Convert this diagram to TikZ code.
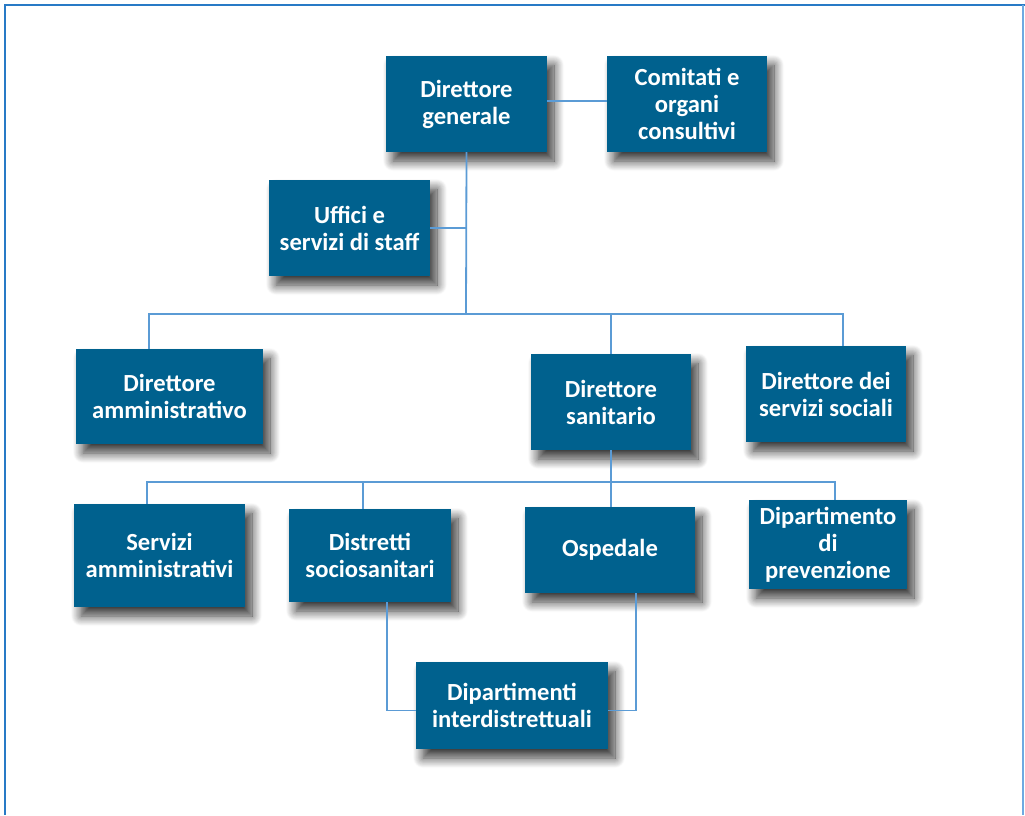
\documentclass[tikz,border=0pt]{standalone}
\usepackage{fontspec}
\setmainfont{Carlito}
\usetikzlibrary{shadows.blur}
\definecolor{unitblue}{RGB}{0,97,142}
\definecolor{linkblue}{RGB}{91,155,213}
\definecolor{frameblue}{RGB}{40,122,198}
\definecolor{framelight}{RGB}{110,170,225}
\tikzset{
  unit/.style={fill=unitblue, text=white, font=\bfseries\fontsize{24.6}{27}\selectfont,
    align=center, inner sep=0pt,
    blur shadow={shadow xshift=7pt, shadow yshift=-9pt, shadow blur radius=10pt,
      shadow blur steps=12, shadow opacity=80}},
  link/.style={draw=linkblue, line width=1.8pt}
}
\begin{document}
\begin{tikzpicture}[x=1pt, y=-1pt]
\useasboundingbox (0,0) rectangle (1025,815);
% outer frame
\draw[frameblue, line width=2.6pt] (1025,5) -- (5,5) -- (5,815);
\draw[framelight, line width=1.4pt] (1023,5) -- (1023,815);

% units
\node[unit, minimum width=161pt, minimum height=96pt] (dg)    at (466.5,104)  {Direttore\\generale};
\node[unit, minimum width=160pt, minimum height=96pt] (com)   at (687,104)    {Comitati e\\organi\\consultivi};
\node[unit, minimum width=161pt, minimum height=96pt] (staff) at (349.5,228)  {Uffici e\\servizi di staff};
\node[unit, minimum width=187pt, minimum height=95pt] (amm)   at (169.5,396.5){Direttore\\amministrativo};
\node[unit, minimum width=160pt, minimum height=96pt] (san)   at (611,402)    {Direttore\\sanitario};
\node[unit, minimum width=160pt, minimum height=96pt] (soc)   at (826,394)    {Direttore dei\\servizi sociali};
\node[unit, minimum width=171pt, minimum height=103pt] (sa)   at (159.5,555.5){Servizi\\amministrativi};
\node[unit, minimum width=162pt, minimum height=93pt] (dist)  at (370,555.5)  {Distretti\\sociosanitari};
\node[unit, minimum width=170pt, minimum height=86pt] (osp)   at (610,550)    {Ospedale};
\node[unit, minimum width=158pt, minimum height=89pt] (prev)  at (828,544.5)  {Dipartimento\\di\\prevenzione};
\node[unit, minimum width=192pt, minimum height=87pt] (dip)   at (512,705.5)  {Dipartimenti\\interdistrettuali};

% bus points
\coordinate (bA) at (466,314);
\coordinate (b1) at (149,314);
\coordinate (b3) at (843,314);
\coordinate (c1) at (147,482);
\coordinate (c2) at (363,482);
\coordinate (c4) at (835,482);
\coordinate (d1) at (387,602);
\coordinate (d2) at (636,593);

% connectors
\draw[link] ([yshift=3pt]dg.east) -- ([yshift=3pt]com.west);
\draw[link] (dg.south) -- (bA);
\draw[link] (staff.east) -- (staff.east -| dg.south);
\draw[link] (b1 |- amm.north) -- (b1) -- (b3) -- (b3 |- soc.north);
\draw[link] (san.north) -- (san.north |- b1);
\draw[link] (san.south) -- (san.south |- osp.north);
\draw[link] (c1 |- sa.north) -- (c1) -- (c4) -- (c4 |- prev.north);
\draw[link] (c2) -- (c2 |- dist.north);
\draw[link] (d1) |- ([yshift=-5pt]dip.west);
\draw[link] (d2) |- ([yshift=-5pt]dip.east);
\end{tikzpicture}
\end{document}
